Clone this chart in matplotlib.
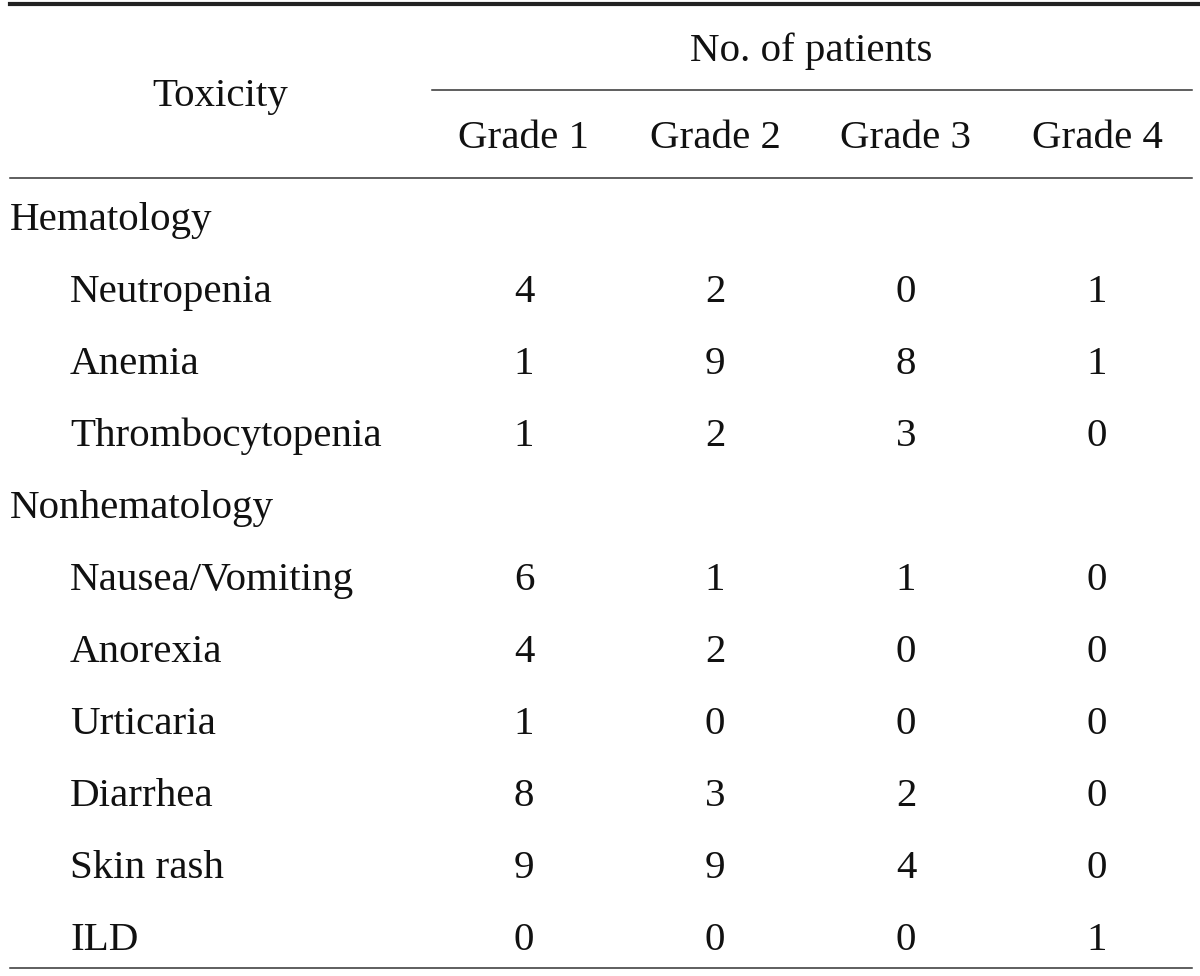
import matplotlib
matplotlib.use("Agg")
import matplotlib.pyplot as plt

# 表格数据
grades = ["Grade 1", "Grade 2", "Grade 3", "Grade 4"]
hema_names = ["Neutropenia", "Anemia", "Thrombocytopenia"]
hema_values = [[4, 2, 0, 1], [1, 9, 8, 1], [1, 2, 3, 0]]
nonhema_names = ["Nausea/Vomiting", "Anorexia", "Urticaria", "Diarrhea", "Skin rash", "ILD"]
nonhema_values = [[6, 1, 1, 0], [4, 2, 0, 0], [1, 0, 0, 0], [8, 3, 2, 0], [9, 9, 4, 0], [0, 0, 0, 1]]

plt.rcParams['font.family'] = ['Liberation Serif', 'DejaVu Serif']
fs = 29.5
col_x = [524, 715, 906, 1097]
tc = '#111111'

fig = plt.figure(figsize=(12, 9.76), dpi=100)
ax = fig.add_axes([0, 0, 1, 1])
ax.set_xlim(0, 1200)
ax.set_ylim(976, 0)
ax.axis('off')

# 表头
ax.plot([10, 1200], [4, 4], color='#222222', lw=3)
ax.text(220, 106, "Toxicity", ha='center', va='baseline', fontsize=fs, color=tc)
ax.text(811, 61, "No. of patients", ha='center', va='baseline', fontsize=fs, color=tc)
ax.plot([432, 1192], [90, 90], color='#333333', lw=1.1)
for x, g in zip(col_x, grades):
    ax.text(x, 148, g, ha='center', va='baseline', fontsize=fs, color=tc)
ax.plot([10, 1192], [178, 178], color='#333333', lw=1.1)

# 行
rows = [("Hematology", None, True)]
rows += [(n, v, False) for n, v in zip(hema_names, hema_values)]
rows += [("Nonhematology", None, True)]
rows += [(n, v, False) for n, v in zip(nonhema_names, nonhema_values)]

y = 230
for name, vals, is_group in rows:
    ax.text(10 if is_group else 70, y, name, ha='left', va='baseline', fontsize=fs, color=tc)
    if vals is not None:
        for x, v in zip(col_x, vals):
            ax.text(x, y, str(v), ha='center', va='baseline', fontsize=fs, color=tc)
    y += 72

ax.plot([10, 1192], [968, 968], color='#333333', lw=1.1)

fig.savefig("out.png", dpi=100)
